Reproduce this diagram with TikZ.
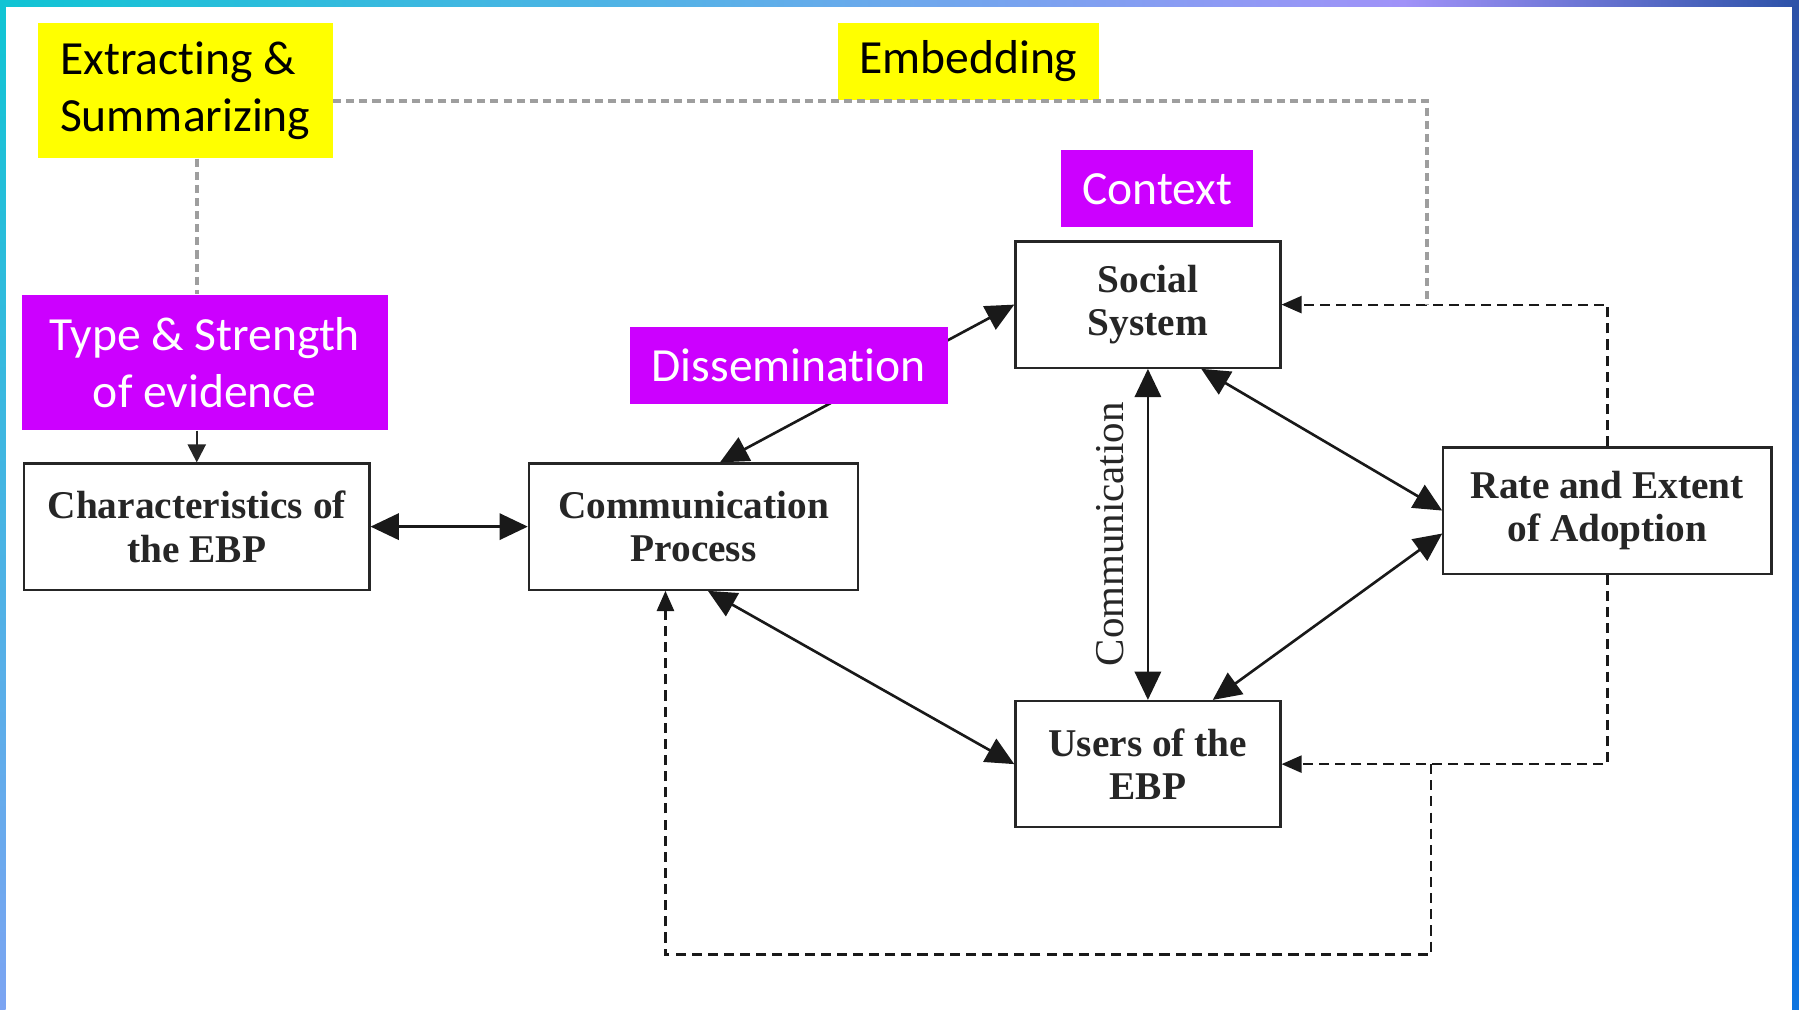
\documentclass[tikz,border=0pt]{standalone}
\usepackage{fontspec}
\setmainfont{Liberation Serif}
\newfontfamily\lblfont{Carlito}[Ligatures={NoCommon}]
\usetikzlibrary{arrows.meta}
\definecolor{tagpurple}{HTML}{CC00FF}
\definecolor{tagyellow}{HTML}{FFFF00}
\definecolor{barcyan}{HTML}{10C4D4}
\definecolor{barsky}{HTML}{5AB0E8}
\definecolor{barlilac}{HTML}{A092F8}
\definecolor{barnavy}{HTML}{2C52A8}
\definecolor{barblue}{HTML}{0C74E0}
\definecolor{barsoft}{HTML}{7CA4F2}
\pgfdeclarehorizontalshading{topbar}{100bp}{color(0bp)=(barcyan); color(25bp)=(barcyan); color(45bp)=(barsky); color(64bp)=(barlilac); color(75bp)=(barnavy); color(100bp)=(barnavy)}

\begin{document}
\begin{tikzpicture}[node distance=8cm, >={Triangle[length=14pt,width=13pt]},
    box/.style={draw=black!85, line width=1.1pt, fill=white, align=center, minimum height=2.2cm, text=black!85, font=\fontsize{19.5}{21.6}\selectfont\bfseries},
    tag/.style={inner sep=0pt, align=center, font=\lblfont\fontsize{23.6}{28.5}\selectfont},
    ytag/.style={tag, fill=tagyellow},
    ptag/.style={tag, fill=tagpurple, text=white},
    dblar/.style={<->, line width=1.3pt, black!90},
    dashar/.style={-{Triangle[length=10pt,width=8.5pt]}, dash pattern=on 5pt off 3pt, line width=1.1pt, black!90},
    graydash/.style={dash pattern=on 4pt off 2.5pt, line width=1.8pt, black!38}]
    \useasboundingbox (0,0) rectangle (31.36,-17.6);
    \fill[white] (0,0) rectangle (31.36,-17.6);
    \shade[shading=topbar] (0,0) rectangle (31.36,-0.11);
    \shade[top color=barcyan, bottom color=barsoft] (0,-0.11) rectangle (0.1,-17.6);
    \shade[top color=barnavy, bottom color=barblue] (31.24,-0.11) rectangle (31.36,-17.6);

    \node[box, minimum width=6.02cm] (char) at (3.43,-9.18) {Characteristics of\\the EBP};
    \node[box, right of=char, xshift=0.66cm, minimum width=5.74cm] (comm) {Communication\\Process};
    \node[box, right of=comm, xshift=-0.08cm, yshift=3.87cm, minimum width=4.62cm] (social) {Social\\System};
    \node[box, below of=social, yshift=-0.01cm, minimum width=4.62cm] (users) {Users of the\\EBP};
    \node[box, right of=social, xshift=0.01cm, yshift=-3.59cm, minimum width=5.72cm] (rate) {Rate and Extent\\of Adoption};

    \draw[dblar] (char) -- (comm);
    \draw[dblar] ([xshift=0.46cm]comm.north) -- (social.west);
    \draw[dblar] (social) -- node[midway, rotate=90, above=8pt, font=\fontsize{20.3}{22}\selectfont, text=black!85] {Communication} (users);
    \draw[dblar] ([xshift=0.93cm]social.south) -- (rate.west);
    \draw[dblar] ([xshift=1.13cm]users.north) -- ([yshift=-0.4cm]rate.west);
    \draw[dblar] ([xshift=0.25cm]comm.south) -- (users.west);

    \node[ptag, above of=char, node distance=2.86cm, xshift=0.14cm, minimum width=6.38cm, minimum height=2.36cm] (type) {Type \& Strength\\of evidence};
    \node[ytag, above of=type, node distance=4.74cm, xshift=-0.34cm, minimum width=5.14cm, minimum height=2.36cm, align=left] (extract) {Extracting \&\\Summarizing};
    \node[ptag, above of=social, node distance=2.02cm, xshift=0.16cm, minimum width=3.34cm, minimum height=1.34cm] (context) {Context};
    \node[ytag, above of=context, node distance=2.22cm, xshift=-3.29cm, minimum width=4.56cm, minimum height=1.34cm] (embed) {Embedding};
    \node[ptag, above of=comm, node distance=2.81cm, xshift=1.66cm, minimum width=5.54cm, minimum height=1.34cm] (dissem) {Dissemination};

    \coordinate (embedjoin) at ([xshift=2.54cm]social.east);
    \coordinate (loopstart) at ([xshift=2.6cm]users.east);
    \draw[dashar] (rate.north) |- (social.east);
    \draw[dashar] (rate.south) |- (users.east);
    \draw[graydash] ([yshift=-0.18cm]extract.east) -| (embedjoin);
    \draw[dashar] (loopstart) -- ++(0,-3.32) -| ([xshift=-0.49cm]comm.south);
    \draw[graydash] (extract.south -| char.north) -- (type.north -| char.north);
    \draw[-{Triangle[length=9pt,width=9pt]}, line width=1.1pt, black!85] (type.south -| char.north) -- (char.north);
\end{tikzpicture}
\end{document}
